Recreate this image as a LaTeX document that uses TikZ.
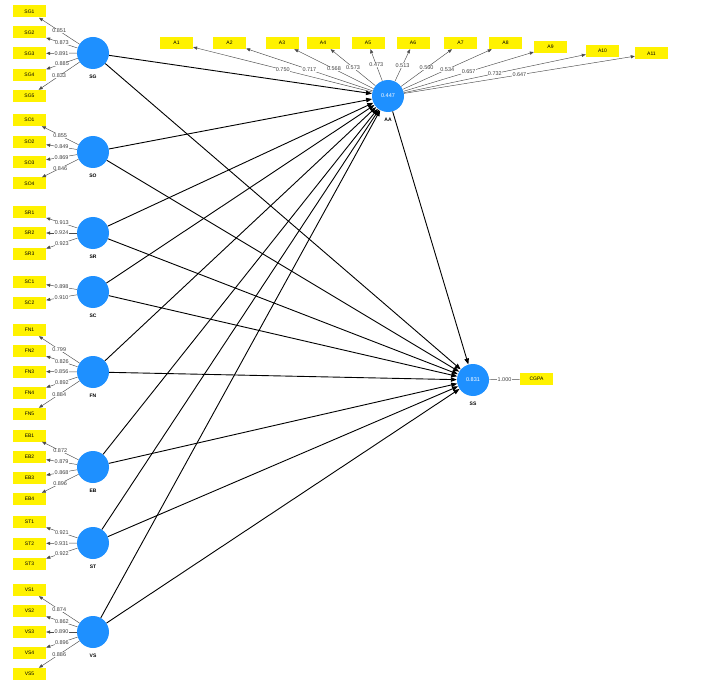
\documentclass[tikz,border=0pt]{standalone}
\usepackage{fontspec}
\setmainfont{Liberation Sans}
\usetikzlibrary{arrows.meta}
\definecolor{lvblue}{RGB}{30,144,255}
\begin{document}
\begin{tikzpicture}[x=1pt,y=-1pt,
 lv/.style={circle, fill=lvblue, minimum size=32pt, inner sep=0pt, text=white, font=\fontsize{5.5}{6}\selectfont,
   label={[font=\bfseries\fontsize{5}{6}\selectfont, label distance=6pt, inner sep=0pt]below:#1}},
 ind/.style={fill=yellow, minimum width=33pt, minimum height=12pt, inner sep=0pt, font=\fontsize{5}{6}\selectfont},
 ld/.style={draw=black!70, line width=0.45pt, -{Triangle[length=4pt,width=3.2pt]}},
 st/.style={draw=black, line width=0.9pt, -{Triangle[length=6pt,width=4.5pt]}},
 lab/.style={midway, fill=white, inner sep=0.3pt, font=\fontsize{5.5}{6}\selectfont, text=black!75}
]
\useasboundingbox (0,0) rectangle (704,687);

% latent variables
\node[lv=SG] (SG) at (93,53) {};
\node[lv=SO] (SO) at (93,152) {};
\node[lv=SR] (SR) at (93,233) {};
\node[lv=SC] (SC) at (93,292) {};
\node[lv=FN] (FN) at (93,372) {};
\node[lv=EB] (EB) at (93,467) {};
\node[lv=ST] (ST) at (93,543) {};
\node[lv=VS] (VS) at (93,632) {};
\node[lv=AA] (AA) at (388,96) {0.447};
\node[lv=SS] (SS) at (473,380) {0.831};

% structural paths
\foreach \s in {SG,SO,SR,SC,FN,EB,ST,VS}{
  \draw[st] (\s) -- (AA);
  \draw[st] (\s) -- (SS);
}
\draw[st] (AA) -- (SS);

% indicators
\foreach \i/\y/\v in {1/11.5/0.851, 2/32.5/0.873, 3/53.5/0.891, 4/75/0.885, 5/96/0.833}{
  \node[ind] (SG\i) at (29.5,\y) {SG\i};
  \draw[ld] (SG) -- (SG\i) node[lab]{\v};
}
\foreach \i/\y/\v in {1/120/0.855, 2/142/0.849, 3/162.5/0.869, 4/183.5/0.846}{
  \node[ind] (SO\i) at (29.5,\y) {SO\i};
  \draw[ld] (SO) -- (SO\i) node[lab]{\v};
}
\foreach \i/\y/\v in {1/212.5/0.913, 2/233/0.924, 3/254/0.923}{
  \node[ind] (SR\i) at (29.5,\y) {SR\i};
  \draw[ld] (SR) -- (SR\i) node[lab]{\v};
}
\foreach \i/\y/\v in {1/282/0.898, 2/303/0.910}{
  \node[ind] (SC\i) at (29.5,\y) {SC\i};
  \draw[ld] (SC) -- (SC\i) node[lab]{\v};
}
\foreach \i/\y/\v in {1/330/0.799, 2/350.5/0.826, 3/371.5/0.856, 4/393/0.892, 5/414/0.884}{
  \node[ind] (FN\i) at (29.5,\y) {FN\i};
  \draw[ld] (FN) -- (FN\i) node[lab]{\v};
}
\foreach \i/\y/\v in {1/435.5/0.872, 2/457/0.879, 3/478/0.868, 4/499/0.896}{
  \node[ind] (EB\i) at (29.5,\y) {EB\i};
  \draw[ld] (EB) -- (EB\i) node[lab]{\v};
}
\foreach \i/\y/\v in {1/522/0.921, 2/543.5/0.931, 3/564/0.922}{
  \node[ind] (ST\i) at (29.5,\y) {ST\i};
  \draw[ld] (ST) -- (ST\i) node[lab]{\v};
}
\foreach \i/\y/\v in {1/590/0.874, 2/611/0.862, 3/632/0.890, 4/653/0.896, 5/674/0.886}{
  \node[ind] (VS\i) at (29.5,\y) {VS\i};
  \draw[ld] (VS) -- (VS\i) node[lab]{\v};
}
\foreach \i/\x/\y/\v in {1/176.5/43/0.750, 2/229.5/43/0.717, 3/282/43/0.568, 4/323/43/0.573,
  5/368/43/0.473, 6/413/43/0.513, 7/460.5/43/0.560, 8/505.5/43/0.534, 9/550.5/47/0.657,
  10/602.5/51/0.732, 11/651.5/53.5/0.647}{
  \node[ind] (A\i) at (\x,\y) {A\i};
  \draw[ld] (AA) -- (A\i) node[lab]{\v};
}

\node[ind] (CGPA) at (536.5,379) {CGPA};
\draw[draw=black!70, line width=0.45pt] (SS) -- (CGPA) node[lab]{1.000};

\end{tikzpicture}
\end{document}
